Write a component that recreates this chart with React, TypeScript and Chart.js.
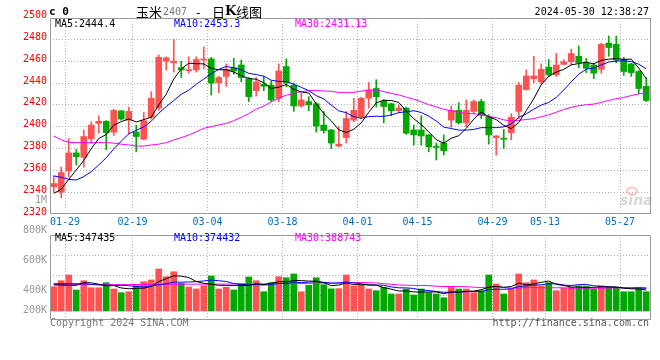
import React, { useEffect, useRef } from 'react';
import { Chart, registerables } from 'chart.js';

Chart.register(...registerables);

// ---------- data ----------
const dates = [
  '01-25', '01-26', '01-29', '01-30', '01-31', '02-01', '02-02', '02-05', '02-06', '02-07',
  '02-08', '02-19', '02-20', '02-21', '02-22', '02-23', '02-26', '02-27', '02-28', '02-29',
  '03-01', '03-04', '03-05', '03-06', '03-07', '03-08', '03-11', '03-12', '03-13', '03-14',
  '03-15', '03-18', '03-19', '03-20', '03-21', '03-22', '03-25', '03-26', '03-27', '03-28',
  '03-29', '04-01', '04-02', '04-03', '04-08', '04-09', '04-10', '04-11', '04-12', '04-15',
  '04-16', '04-17', '04-18', '04-19', '04-22', '04-23', '04-24', '04-25', '04-26', '04-29',
  '04-30', '05-06', '05-07', '05-08', '05-09', '05-10', '05-13', '05-14', '05-15', '05-16',
  '05-17', '05-20', '05-21', '05-22', '05-23', '05-24', '05-27', '05-28', '05-29', '05-30',
];

const tickDates = ['01-29', '02-19', '03-04', '03-18', '04-01', '04-15', '04-29', '05-13', '05-27'];

const opens = [
  2345, 2340, 2359.5, 2376, 2372, 2389, 2403, 2405, 2395, 2414.5,
  2406, 2395, 2388.5, 2408.5, 2417, 2460, 2458.5, 2454, 2451.3, 2452,
  2461, 2462, 2440, 2446, 2454, 2456.5, 2444, 2433, 2439, 2438,
  2426, 2455, 2438, 2419, 2423, 2421, 2401.5, 2397, 2382.3, 2390,
  2406, 2409, 2426, 2435, 2423.5, 2421, 2414.7, 2417, 2397, 2397,
  2392.5, 2382, 2385, 2406, 2415, 2403.5, 2414, 2423, 2409, 2390,
  2389.5, 2394.5, 2414, 2434, 2444, 2441, 2454.5, 2447.5, 2457, 2459.5,
  2464.5, 2458, 2456.5, 2452.5, 2476.5, 2475.5, 2461.5, 2457.5, 2450.5, 2437,
];
const highs = [
  2355, 2363, 2389, 2379, 2397, 2404.5, 2410, 2405.5, 2416, 2415,
  2418, 2401.5, 2413, 2432, 2465.5, 2464, 2480, 2460, 2464, 2464,
  2473, 2463.5, 2446, 2457.5, 2462.5, 2461, 2445, 2445, 2446, 2442,
  2457.5, 2462, 2440, 2430.5, 2427.5, 2422, 2414, 2397.5, 2400, 2414,
  2426, 2427, 2440.5, 2443, 2425, 2421.5, 2420, 2418, 2401.5, 2410,
  2393, 2385, 2392.5, 2419, 2422, 2424.5, 2424.5, 2425, 2411, 2392,
  2397.5, 2412, 2440.5, 2452, 2464.5, 2457.5, 2461.5, 2467, 2461.5, 2471,
  2474, 2462.5, 2458, 2476.5, 2483, 2483, 2463.5, 2458, 2451.5, 2445,
];
const lows = [
  2340, 2335, 2354, 2365, 2363, 2385, 2394, 2379, 2392, 2406,
  2393, 2377, 2388, 2407, 2415, 2452, 2450, 2445, 2449, 2450,
  2453, 2429, 2431, 2437, 2448, 2441, 2423, 2428, 2433, 2423,
  2423, 2436.5, 2414, 2418, 2414.5, 2395, 2394, 2380, 2381.5, 2385,
  2404.5, 2407, 2417, 2418, 2403.5, 2410, 2413, 2393, 2383, 2383,
  2377, 2369.5, 2374, 2399.5, 2402.5, 2400, 2412, 2407.5, 2384, 2374,
  2380, 2388, 2407.5, 2433.5, 2440, 2439, 2446, 2446, 2456.5, 2456.5,
  2454, 2449.5, 2444, 2449, 2464.5, 2458.5, 2447, 2446, 2430, 2423,
];
const closes = [
  2348, 2358, 2376, 2372.5, 2391, 2401.5, 2405, 2394.5, 2415, 2407,
  2414, 2391, 2405.5, 2426, 2463.5, 2463, 2460, 2452, 2452, 2461.5,
  2462, 2440, 2445, 2452.5, 2451, 2445, 2427.5, 2441, 2437, 2424.5,
  2451, 2440, 2419, 2424.5, 2420, 2400.5, 2396.5, 2385, 2384, 2407.5,
  2415, 2426, 2433.5, 2427.5, 2418.5, 2414.5, 2417, 2394, 2392.5, 2391.5,
  2381.5, 2381, 2378, 2415, 2403.5, 2415, 2423, 2410.5, 2392.5, 2391.5,
  2388.5, 2408.5, 2438, 2446.5, 2446.5, 2452.5, 2447.5, 2456.5, 2459.5, 2467,
  2458.5, 2453.5, 2449, 2475.5, 2472.5, 2461, 2450.5, 2449.5, 2435, 2424,
];
const volumes = [
  401000, 500000, 594000, 347000, 500000, 384000, 384000, 467000, 363000, 302000,
  318000, 417000, 483000, 512000, 693000, 566000, 648000, 457000, 396000, 363000,
  417000, 578000, 363000, 391000, 347000, 446000, 561000, 500000, 318000, 467000,
  566000, 549000, 611000, 318000, 424000, 549000, 434000, 366000, 368000, 594000,
  413000, 429000, 363000, 335000, 391000, 281000, 281000, 363000, 264000, 363000,
  302000, 281000, 219000, 396000, 363000, 363000, 302000, 335000, 594000, 446000,
  281000, 363000, 611000, 467000, 512000, 413000, 467000, 335000, 375000, 391000,
  413000, 413000, 363000, 413000, 391000, 391000, 318000, 318000, 391000, 318000,
];

// moving-average values before enough history exists in the window
const priceMa5Head = [2339, 2342.7, 2351.8, 2360.4];
const priceMa10Head = [2354.9, 2353.7, 2351.8, 2351.2, 2354.3, 2358.8, 2365, 2371.6, 2379.6];
const priceMa30Head = [
  2391.5, 2388, 2385.7, 2385.4, 2385.4, 2385.4, 2385.4, 2385.4, 2385, 2384,
  2383.3, 2382.3, 2382.3, 2383.3, 2384, 2385.4, 2387.8, 2390, 2392.4, 2395.4,
  2398.5, 2400, 2401.6, 2403, 2405.5, 2408.6, 2412, 2416, 2419,
];
const volMa5Head = [430000, 428000, 425000, 424000];
const volMa10Head = [450000, 450000, 450000, 450000, 448000, 440000, 430000, 425000, 420000];
const volMa30Head = [
  438000, 438000, 437000, 437000, 437000, 436000, 436000, 436000, 436000, 436000,
  436000, 437000, 437000, 438000, 439000, 440000, 441000, 442000, 442000, 443000,
  443000, 444000, 444000, 445000, 445000, 446000, 446000, 447000, 448000,
];

const priceLabelTicks = [2320, 2340, 2360, 2380, 2400, 2420, 2440, 2460, 2480, 2500];
const priceGridTicks = [2340, 2360, 2380, 2400, 2420, 2440, 2460, 2480];
const volGridTicks = [264000, 594000, 924000];
const volAxisLabels = ['800K', '600K', '400K', '200K'];

const priceMaLabels = ['MA5:2444.4', 'MA10:2453.3', 'MA30:2431.13'];
const volMaLabels = ['MA5:347435', 'MA10:374432', 'MA30:388743'];

// ---------- styling ----------
const MONO = '"DejaVu Sans Mono", monospace';
const CJK = '"Noto Sans CJK SC", sans-serif';
const UP = '#ff5252';
const DOWN = '#00a800';
const MA_COLORS = ['#000000', '#0000ff', '#ff00ff'];
const GRID = '#b0b0b0';
const FRAME = '#999999';

function movingAverage(values: number[], period: number, head: number[]): number[] {
  return values.map((_, i) => {
    if (i < period - 1) return head[i];
    let s = 0;
    for (let k = i - period + 1; k <= i; k++) s += values[k];
    return s / period;
  });
}

const shownIdx = new Set(tickDates.map((d) => dates.indexOf(d)));
const candleColors = closes.map((c, i) => (c >= opens[i] ? UP : DOWN));

function xScale(showLabels: boolean, height: number) {
  return {
    type: 'category',
    offset: true,
    grid: {
      offset: true,
      drawTicks: false,
      lineWidth: 1,
      color: (c: any) => (shownIdx.has(c.index) ? GRID : 'rgba(0,0,0,0)'),
    },
    border: { display: false, dash: [1, 2] },
    ticks: {
      display: showLabels,
      autoSkip: false,
      maxRotation: 0,
      minRotation: 0,
      padding: 3,
      labelOffset: -3.75,
      color: '#0070c0',
      font: { family: MONO, size: 10 },
      callback: (_v: any, i: number) => (shownIdx.has(i) ? dates[i] : ''),
    },
    afterFit: (s: any) => {
      s.height = height;
    },
  };
}

function lineDs(data: number[], color: string) {
  return {
    type: 'line',
    data,
    borderColor: color,
    borderWidth: 1,
    pointRadius: 0,
    tension: 0,
    fill: false,
    order: 0,
  };
}

function drawFrame(ctx: CanvasRenderingContext2D, a: any) {
  ctx.save();
  ctx.strokeStyle = FRAME;
  ctx.lineWidth = 1;
  ctx.beginPath();
  ctx.moveTo(a.left + 0.5, a.top + 0.5);
  ctx.lineTo(a.right + 0.5, a.top + 0.5);
  ctx.lineTo(a.right + 0.5, a.bottom + 0.5);
  ctx.lineTo(a.left + 0.5, a.bottom + 0.5);
  ctx.closePath();
  ctx.stroke();
  ctx.restore();
}

function drawMaLabels(ctx: CanvasRenderingContext2D, labels: string[], y: number) {
  const xs = [55, 174, 295];
  ctx.font = `10px ${MONO}`;
  ctx.textAlign = 'left';
  ctx.textBaseline = 'middle';
  labels.forEach((t, i) => {
    ctx.fillStyle = MA_COLORS[i];
    ctx.fillText(t, xs[i], y);
  });
}

const pricePlugin = {
  id: 'priceDecor',
  beforeDatasetsDraw(chart: any) {
    const { ctx } = chart;
    ctx.save();
    ctx.strokeStyle = 'rgba(240,120,120,0.4)';
    ctx.lineWidth = 2;
    ctx.beginPath();
    ctx.ellipse(632, 191, 5, 3.5, 0, 0, Math.PI * 2);
    ctx.stroke();
    ctx.fillStyle = 'rgba(140,140,140,0.35)';
    ctx.font = 'italic bold 14px "DejaVu Sans", sans-serif';
    ctx.textAlign = 'left';
    ctx.textBaseline = 'alphabetic';
    ctx.fillText('sina', 620, 205);
    ctx.restore();
  },
  afterDraw(chart: any) {
    const { ctx, chartArea } = chart;
    const y = chart.scales.y;
    drawFrame(ctx, chartArea);
    ctx.save();
    // y labels
    ctx.font = `10px ${MONO}`;
    ctx.textAlign = 'right';
    ctx.textBaseline = 'middle';
    ctx.fillStyle = '#ff0000';
    priceLabelTicks.forEach((v) => {
      ctx.fillText(String(v), 47, y.getPixelForValue(v) - 2);
    });
    ctx.fillStyle = '#999999';
    ctx.fillText('1M', 47, 200);
    // header
    ctx.textAlign = 'left';
    ctx.fillStyle = '#000';
    ctx.font = `bold 11px ${MONO}`;
    ctx.fillText('c 0', 49, 12);
    ctx.font = `13px ${CJK}`;
    ctx.fillText('玉米', 136, 12);
    ctx.fillStyle = '#777';
    ctx.font = `10px ${MONO}`;
    ctx.fillText('2407', 163, 12);
    ctx.fillStyle = '#000';
    ctx.font = `13px ${CJK}`;
    ctx.fillText('-', 196, 12);
    ctx.fillText('日', 212, 12);
    ctx.font = 'bold 13px "DejaVu Serif", serif';
    ctx.fillText('K', 225, 12);
    ctx.font = `13px ${CJK}`;
    ctx.fillText('线图', 236, 12);
    ctx.font = `10px ${MONO}`;
    ctx.textAlign = 'right';
    ctx.fillText('2024-05-30 12:38:27', 649, 12);
    drawMaLabels(ctx, priceMaLabels, 24);
    ctx.restore();
  },
};

const volPlugin = {
  id: 'volDecor',
  afterDraw(chart: any) {
    const { ctx, chartArea } = chart;
    drawFrame(ctx, chartArea);
    ctx.save();
    ctx.font = `10px ${MONO}`;
    ctx.textAlign = 'right';
    ctx.textBaseline = 'middle';
    ctx.fillStyle = '#999999';
    const labelYs = [8, 38, 68, 88];
    volAxisLabels.forEach((t, i) => ctx.fillText(t, 47, labelYs[i]));
    drawMaLabels(ctx, volMaLabels, 16.5);
    ctx.textAlign = 'left';
    ctx.fillStyle = '#777';
    ctx.fillText('Copyright 2024 SINA.COM', 50, 101.5);
    ctx.textAlign = 'right';
    ctx.fillStyle = '#555';
    ctx.fillText('http://finance.sina.com.cn', 649, 101.5);
    ctx.restore();
  },
};

export default function App() {
  const priceRef = useRef<HTMLCanvasElement>(null);
  const volRef = useRef<HTMLCanvasElement>(null);

  useEffect(() => {
    const bodies = opens.map((o, i) => [o, closes[i]]);
    const wicks = lows.map((l, i) => [l, highs[i]]);

    const priceChart = new Chart(priceRef.current as HTMLCanvasElement, {
      type: 'bar',
      data: {
        labels: dates,
        datasets: [
          lineDs(movingAverage(closes, 5, priceMa5Head), MA_COLORS[0]),
          lineDs(movingAverage(closes, 10, priceMa10Head), MA_COLORS[1]),
          lineDs(movingAverage(closes, 30, priceMa30Head), MA_COLORS[2]),
          {
            type: 'bar',
            data: bodies,
            backgroundColor: candleColors,
            borderWidth: 0,
            barThickness: 6,
            minBarLength: 1,
            grouped: false,
            order: 1,
          },
          {
            type: 'bar',
            data: wicks,
            backgroundColor: candleColors,
            borderWidth: 0,
            barThickness: 1,
            grouped: false,
            order: 2,
          },
        ] as any,
      },
      options: {
        animation: false,
        responsive: false,
        devicePixelRatio: 1,
        events: [],
        layout: { padding: { top: 18, right: 10, left: 0, bottom: 0 } },
        plugins: { legend: { display: false }, tooltip: { enabled: false } },
        scales: {
          x: xScale(true, 19) as any,
          y: {
            min: 2321,
            max: 2499.5,
            afterBuildTicks: (s: any) => {
              s.ticks = priceGridTicks.map((v) => ({ value: v }));
            },
            ticks: { display: false },
            grid: { color: GRID, drawTicks: false, lineWidth: 1 },
            border: { display: false, dash: [1, 2] },
            afterFit: (s: any) => {
              s.width = 50;
            },
          },
        },
      },
      plugins: [pricePlugin],
    });

    const volChart = new Chart(volRef.current as HTMLCanvasElement, {
      type: 'bar',
      data: {
        labels: dates,
        datasets: [
          lineDs(movingAverage(volumes, 5, volMa5Head), MA_COLORS[0]),
          lineDs(movingAverage(volumes, 10, volMa10Head), MA_COLORS[1]),
          lineDs(movingAverage(volumes, 30, volMa30Head), MA_COLORS[2]),
          {
            type: 'bar',
            data: volumes,
            backgroundColor: candleColors,
            borderWidth: 0,
            barThickness: 6,
            grouped: false,
            order: 1,
          },
        ] as any,
      },
      options: {
        animation: false,
        responsive: false,
        devicePixelRatio: 1,
        events: [],
        layout: { padding: { top: 13, right: 10, left: 0, bottom: 0 } },
        plugins: { legend: { display: false }, tooltip: { enabled: false } },
        scales: {
          x: xScale(false, 41) as any,
          y: {
            min: -132000,
            max: 1254000,
            afterBuildTicks: (s: any) => {
              s.ticks = volGridTicks.map((v) => ({ value: v }));
            },
            ticks: { display: false },
            grid: { color: GRID, drawTicks: false, lineWidth: 1 },
            border: { display: false, dash: [1, 2] },
            afterFit: (s: any) => {
              s.width = 50;
            },
          },
        },
      },
      plugins: [volPlugin],
    });

    return () => {
      priceChart.destroy();
      volChart.destroy();
    };
  }, []);

  return (
    <div
      style={{
        position: 'fixed',
        left: 0,
        top: 0,
        width: 660,
        height: 360,
        background: '#ffffff',
        overflow: 'hidden',
      }}
    >
      <canvas
        ref={priceRef}
        width={660}
        height={232}
        style={{ position: 'absolute', left: 0, top: 0, width: 660, height: 232 }}
      />
      <canvas
        ref={volRef}
        width={660}
        height={138}
        style={{ position: 'absolute', left: 0, top: 222, width: 660, height: 138 }}
      />
    </div>
  );
}
